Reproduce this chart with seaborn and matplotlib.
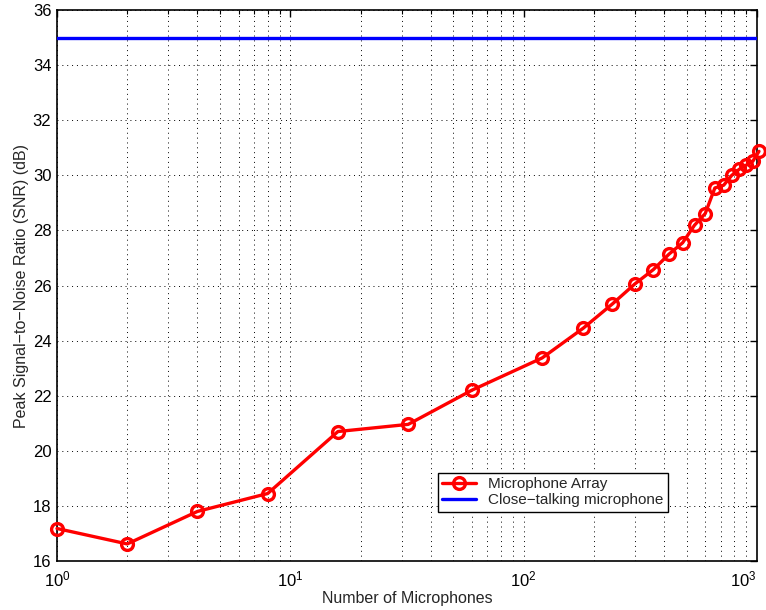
import numpy as np
import pandas as pd
import matplotlib
matplotlib.use("Agg")
import matplotlib.pyplot as plt
import seaborn as sns
from matplotlib.ticker import LogLocator, LogFormatterMathtext, MultipleLocator

# data
n_mics = [1, 2, 4, 8, 16, 32, 60, 120, 180, 240, 300, 360, 420, 480, 540,
          600, 660, 720, 780, 840, 900, 960, 1020]
array_snr = [17.18, 16.62, 17.80, 18.45, 20.70, 20.96, 22.20, 23.37, 24.45,
             25.33, 26.06, 26.58, 27.14, 27.55, 28.19, 28.61, 29.54, 29.64,
             30.00, 30.22, 30.37, 30.51, 30.87]
close_x = [1, 1000]
close_snr = [35, 35]

df_arr = pd.DataFrame({'mics': n_mics, 'snr': array_snr})
df_close = pd.DataFrame({'mics': close_x, 'snr': close_snr})

sns.set_style('white')
plt.rcParams['font.family'] = ['Liberation Sans', 'DejaVu Sans']
plt.rcParams['mathtext.fontset'] = 'custom'
plt.rcParams['mathtext.rm'] = 'Liberation Sans'

fig = plt.figure(figsize=(7.66, 6.10), dpi=100)
ax = fig.add_axes([0.0744, 0.0803, 0.9138, 0.9033])

sns.lineplot(data=df_arr, x='mics', y='snr', ax=ax, color='red', linewidth=2.4,
             marker='o', markersize=8.5, markerfacecolor='none', markeredgecolor='red',
             markeredgewidth=2.4, label='Microphone Array', clip_on=False, zorder=5)
sns.lineplot(data=df_close, x='mics', y='snr', ax=ax, color='blue', linewidth=2.4,
             label='Close\u2212talking microphone', zorder=4)

ax.set_xscale('log')
ax.set_xlim(1, 1000)
ax.set_ylim(16, 36)
ax.yaxis.set_major_locator(MultipleLocator(2))
ax.xaxis.set_major_locator(LogLocator(base=10))
ax.xaxis.set_minor_locator(LogLocator(base=10, subs=np.arange(2, 10)))
ax.xaxis.set_major_formatter(LogFormatterMathtext())

ax.grid(True, which='major', axis='both', linestyle=(0, (1, 4)), color='black', linewidth=0.7)
ax.grid(True, which='minor', axis='x', linestyle=(0, (1, 4)), color='black', linewidth=0.7)

ax.tick_params(which='both', direction='in', top=True, right=True, labelsize=12,
               colors='black')
ax.tick_params(which='major', length=5, width=1)
ax.tick_params(axis='x', which='major', pad=6)
ax.tick_params(axis='y', which='major', pad=4)
ax.tick_params(which='minor', length=3, width=0.8)
for s in ax.spines.values():
    s.set_color('black')
    s.set_linewidth(1.2)

ax.set_xlabel('Number of Microphones', fontsize=11.5, labelpad=1)
ax.set_ylabel('Peak Signal\u2212to\u2212Noise Ratio (SNR) (dB)', fontsize=11.5, labelpad=3)

leg = ax.legend(loc='lower left', bbox_to_anchor=(0.544, 0.089), fontsize=11,
                frameon=True, fancybox=False, framealpha=1, edgecolor='black',
                borderpad=0.3, labelspacing=0.15, handlelength=2.2, borderaxespad=0)
leg.get_frame().set_linewidth(1.0)

# last decade label sits inside the figure, like the original
fig.canvas.draw()
for tick in ax.xaxis.get_major_ticks():
    if np.isclose(tick.get_loc(), 1000):
        tick.label1.set_horizontalalignment('right')

fig.savefig('out.png', dpi=100)
